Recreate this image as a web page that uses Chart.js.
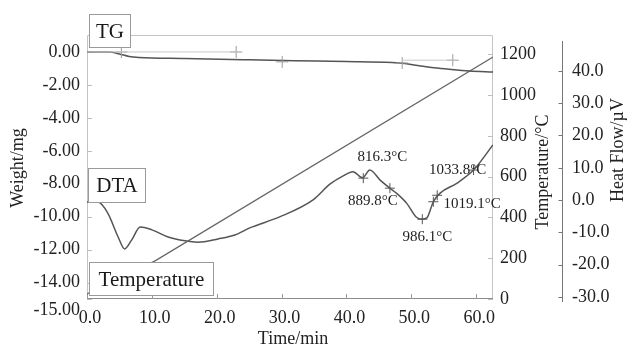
<!DOCTYPE html>
<html>
<head>
<meta charset="utf-8">
<script src="https://cdn.jsdelivr.net/npm/chart.js@4.4.1/dist/chart.umd.min.js"></script>
<style>
  html, body { margin: 0; padding: 0; background: #fff; }
  #wrap { width: 631px; height: 349px; }
</style>
</head>
<body>
<div id="wrap"><canvas id="thermoChart"></canvas></div>
<script>
// axis ticks
const timeTicks = [0, 10, 20, 30, 40, 50, 60];
const weightTicks = [0, -2, -4, -6, -8, -10, -12, -14, -15];
const tempTicks = [0, 200, 400, 600, 800, 1000, 1200];
const heatTicks = [-30, -20, -10, 0, 10, 20, 30, 40];

// TG curve (mg)
const tgTime = [0, 3.5, 5, 6.5, 8, 15, 25, 32, 40, 47, 49, 51, 54, 56.6, 59, 62.6];
const tgWeight = [0, 0, -0.12, -0.27, -0.33, -0.4, -0.48, -0.53, -0.58, -0.64, -0.7, -0.82, -0.98, -1.08, -1.15, -1.22];

// TG tangent lines and their marks
const tgBaseTime = [0, 23.3];
const tgBaseWeight = [0, 0];
const tgStepTime = [48.6, 56.6];
const tgStepWeight = [-0.5, -0.5];
const tgMarkTime = [5.3, 23.0, 30.1, 48.6, 56.4];
const tgMarkWeight = [0, 0, -0.6, -0.67, -0.5];

// furnace temperature
const tempTime = [0, 10.5, 62.6];
const tempValue = [25, 187, 1187];

// DTA curve (uV)
const dtaTime = [0, 1.7, 3.2, 4.8, 5.8, 6.9, 8.2, 10.0, 12.5, 15.1, 17.1, 20.2, 22.8, 25.1, 29.7,
  34.8, 37.5, 39.5, 41.0, 42.5, 43.6, 45.2, 46.7, 47.8, 49.3, 50.8, 51.6, 52.4, 53.4, 54.4, 57.0, 59.6, 62.6];
const dtaHeat = [-0.6, -0.6, -4.0, -11.4, -15.1, -12.3, -8.3, -9.2, -11.4, -12.6, -13.0, -12.0, -10.8, -8.6, -5.2,
  0.0, 5.0, 7.5, 8.8, 6.9, 9.3, 6.2, 3.7, 2.0, -1.0, -5.3, -5.9, -5.5, -0.5, 2.1, 5.2, 9.3, 17.1];

// marked points on DTA
const peakTime = [42.6, 46.7, 51.7, 53.4, 54.0, 59.6];
const peakHeat = [6.8, 3.7, -5.9, -0.5, 1.5, 9.3];
const peakLabels = ['816.3°C', '889.8°C', '986.1°C', '', '1019.1°C', '1033.8°C'];

const serif = "'Liberation Serif', 'Times New Roman', serif";
Chart.defaults.font.family = serif;
Chart.defaults.color = '#222';

const pts = (xs, ys) => xs.map((x, i) => ({ x: x, y: ys[i] }));
const fixTicks = list => scale => { scale.ticks = list.map(v => ({ value: v })); };

// label offsets (px) from each marked point
const peakOffsets = [[19, -21], [-17, 13], [5, 18], [0, 0], [35, 9], [-16, 0]];

const decor = {
  id: 'decor',
  beforeDatasetsDraw(chart) {
    const { ctx, chartArea: a, scales } = chart;
    ctx.save();
    ctx.lineWidth = 1;
    // frame
    ctx.strokeStyle = '#c4c4c4';
    ctx.beginPath();
    ctx.moveTo(a.left + 0.5, a.bottom);
    ctx.lineTo(a.left + 0.5, a.top + 0.5);
    ctx.lineTo(a.right - 0.5, a.top + 0.5);
    ctx.lineTo(a.right - 0.5, a.bottom);
    ctx.stroke();
    ctx.strokeStyle = '#8c8c8c';
    ctx.beginPath();
    ctx.moveTo(a.left, a.bottom - 0.5);
    ctx.lineTo(a.right, a.bottom - 0.5);
    ctx.stroke();
    // inward tick marks
    ctx.strokeStyle = '#bdbdbd';
    ctx.beginPath();
    weightTicks.forEach(v => {
      const y = Math.round(scales.yW.getPixelForValue(v)) + 0.5;
      ctx.moveTo(a.left, y); ctx.lineTo(a.left + 5, y);
    });
    tempTicks.forEach(v => {
      const y = Math.round(scales.yT.getPixelForValue(v)) + 0.5;
      ctx.moveTo(a.right - 5, y); ctx.lineTo(a.right, y);
    });
    ctx.stroke();
    ctx.strokeStyle = '#999';
    ctx.beginPath();
    timeTicks.forEach(v => {
      const x = Math.round(scales.x.getPixelForValue(v)) + 0.5;
      ctx.moveTo(x, a.bottom); ctx.lineTo(x, a.bottom - 5);
    });
    ctx.stroke();
    // heat flow axis
    const hx = Math.round(scales.yH.left) + 0.5;
    ctx.strokeStyle = '#777';
    ctx.beginPath();
    ctx.moveTo(hx, a.top + 6);
    ctx.lineTo(hx, a.bottom + 3);
    heatTicks.forEach(v => {
      const y = Math.round(scales.yH.getPixelForValue(v)) + 0.5;
      ctx.moveTo(hx - 4, y); ctx.lineTo(hx, y);
    });
    ctx.stroke();
    ctx.restore();
  },
  afterDraw(chart) {
    const { ctx, chartArea: a, scales } = chart;
    ctx.save();
    // curve name boxes
    const box = (text, x, y, w, h) => {
      ctx.fillStyle = '#fff';
      ctx.fillRect(x, y, w, h);
      ctx.strokeStyle = '#9a9a9a';
      ctx.lineWidth = 1;
      ctx.strokeRect(x + 0.5, y + 0.5, w, h);
      ctx.fillStyle = '#1a1a1a';
      ctx.font = '21px ' + serif;
      ctx.textAlign = 'center';
      ctx.textBaseline = 'middle';
      ctx.fillText(text, x + w / 2 + 0.5, y + h / 2 + 1.5);
    };
    box('TG', a.left + 2, 14, 41, 33);
    box('DTA', a.left + 1, 168, 57, 34);
    box('Temperature', a.left + 2, 262, 124, 33);

    // peak temperature labels
    ctx.fillStyle = '#222';
    ctx.font = '15px ' + serif;
    ctx.textAlign = 'center';
    ctx.textBaseline = 'middle';
    peakLabels.forEach((t, i) => {
      if (!t) return;
      const x = scales.x.getPixelForValue(peakTime[i]) + peakOffsets[i][0];
      const y = scales.yH.getPixelForValue(peakHeat[i]) + peakOffsets[i][1];
      ctx.fillText(t, x, y);
    });

    // axis titles
    ctx.font = '18px ' + serif;
    ctx.fillText('Time/min', (a.left + a.right) / 2 + 3, 339);
    const vtitle = (text, x, y) => {
      ctx.save();
      ctx.translate(x, y);
      ctx.rotate(-Math.PI / 2);
      ctx.fillText(text, 0, 0);
      ctx.restore();
    };
    vtitle('Weight/mg', 18, 168);
    vtitle('Temperature/°C', 543, 172);
    vtitle('Heat Flow/µV', 618, 150);

    // bottom weight label sits a bit lower than its tick
    ctx.textAlign = 'right';
    ctx.fillText('-15.00', a.left - 7, scales.yW.getPixelForValue(-15) + 11);
    ctx.restore();
  }
};

new Chart(document.getElementById('thermoChart'), {
  type: 'scatter',
  data: {
    datasets: [
      {
        label: 'TG base',
        data: pts(tgBaseTime, tgBaseWeight),
        yAxisID: 'yW', showLine: true, pointRadius: 0,
        borderColor: '#c8c8c8', borderWidth: 1
      },
      {
        label: 'TG step',
        data: pts(tgStepTime, tgStepWeight),
        yAxisID: 'yW', showLine: true, pointRadius: 0,
        borderColor: '#c8c8c8', borderWidth: 1
      },
      {
        label: 'TG marks',
        data: pts(tgMarkTime, tgMarkWeight),
        yAxisID: 'yW', pointStyle: 'cross', pointRadius: 6,
        borderColor: '#9a9a9a', borderWidth: 1
      },
      {
        label: 'TG',
        data: pts(tgTime, tgWeight),
        yAxisID: 'yW', showLine: true, pointRadius: 0,
        borderColor: '#555', borderWidth: 1.5,
        cubicInterpolationMode: 'monotone'
      },
      {
        label: 'Temperature',
        data: pts(tempTime, tempValue),
        yAxisID: 'yT', showLine: true, pointRadius: 0,
        borderColor: '#666', borderWidth: 1.2
      },
      {
        label: 'DTA',
        data: pts(dtaTime, dtaHeat),
        yAxisID: 'yH', showLine: true, pointRadius: 0,
        borderColor: '#555', borderWidth: 1.5,
        cubicInterpolationMode: 'monotone'
      },
      {
        label: 'DTA marks',
        data: pts(peakTime, peakHeat),
        yAxisID: 'yH', pointStyle: 'cross', pointRadius: 5,
        borderColor: '#555', borderWidth: 1
      }
    ]
  },
  options: {
    responsive: true,
    maintainAspectRatio: false,
    animation: false,
    layout: { padding: { top: 35 } },
    plugins: { legend: { display: false }, tooltip: { enabled: false } },
    scales: {
      x: {
        type: 'linear', position: 'bottom', min: 0, max: 62.6,
        afterBuildTicks: fixTicks(timeTicks),
        afterFit: s => { s.height = 50; },
        grid: { display: false, drawTicks: false },
        border: { display: false },
        ticks: {
          padding: 8, labelOffset: 3, maxRotation: 0, autoSkip: false,
          font: { size: 18 }, color: '#222',
          callback: v => v.toFixed(1)
        }
      },
      yW: {
        type: 'linear', position: 'left', min: -15, max: 1.03,
        afterBuildTicks: fixTicks(weightTicks),
        afterFit: s => { s.width = 87; },
        grid: { display: false, drawTicks: false },
        border: { display: false },
        ticks: {
          padding: 7, autoSkip: false, font: { size: 18 }, color: '#222',
          callback: v => (v === -15 ? '' : v.toFixed(2))
        }
      },
      yT: {
        type: 'linear', position: 'right', min: 0, max: 1295,
        afterBuildTicks: fixTicks(tempTicks),
        afterFit: s => { s.width = 69; },
        grid: { display: false, drawTicks: false },
        border: { display: false },
        ticks: {
          padding: 7, autoSkip: false, font: { size: 18 }, color: '#222',
          callback: v => String(v)
        }
      },
      yH: {
        type: 'linear', position: 'right', min: -30.6, max: 51.1,
        afterBuildTicks: fixTicks(heatTicks),
        afterFit: s => { s.width = 69; },
        grid: { display: false, drawTicks: false },
        border: { display: false },
        ticks: {
          padding: 10, autoSkip: false, font: { size: 18 }, color: '#222',
          callback: v => v.toFixed(1)
        }
      }
    }
  },
  plugins: [decor]
});
</script>
</body>
</html>
